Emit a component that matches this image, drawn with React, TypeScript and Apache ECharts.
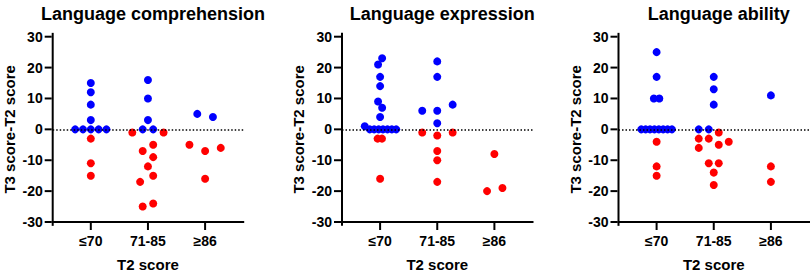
import React, { useEffect, useRef } from "react";
import * as echarts from "echarts";

// Categories (T2 score bands) and panel titles
const categories = ["≤70", "71-85", "≥86"];
const titles = ["Language comprehension", "Language expression", "Language ability"];
const yTicks = { min: -30, max: 30, step: 10 };

// Points: [group index, swarm slot (dot widths from the group centre), T3-T2 score change]
const comprehensionBlue: [number, number, number][] = [
  [0, 0, 15], [0, 0, 12], [0, 0, 8], [0, 0, 3],
  [0, -2, 0], [0, -1, 0], [0, 0, 0], [0, 1, 0], [0, 2, 0],
  [1, 0, 16], [1, 0, 10], [1, 0, 3], [1, -0.67, 0], [1, 0.67, 0],
  [2, -1, 5], [2, 1, 4],
];
const comprehensionRed: [number, number, number][] = [
  [0, 0, -3], [0, 0, -11], [0, 0, -15],
  [1, -2, -1], [1, 2, -1], [1, 0.67, -5], [1, -0.67, -7], [1, 0.67, -9],
  [1, 0, -12], [1, 0.67, -15], [1, -1.0, -17], [1, 0.67, -24], [1, -0.67, -25],
  [2, -2, -5], [2, 0, -7], [2, 2, -6], [2, 0, -16],
];

const expressionBlue: [number, number, number][] = [
  [0, 0.26, 23], [0, -0.26, 21], [0, 0, 17], [0, 0, 14], [0, -0.26, 9],
  [0, 0.26, 7], [0, 0, 4], [0, -1.96, 1],
  [0, -1.32, 0], [0, -0.76, 0], [0, -0.19, 0], [0, 0.37, 0], [0, 0.94, 0], [0, 1.5, 0], [0, 2.06, 0],
  [1, 0, 22], [1, 0, 17], [1, -1.92, 6], [1, 0, 6], [1, 0, 2], [1, 1.97, 8],
];
const expressionRed: [number, number, number][] = [
  [0, -0.32, -3], [0, 0.24, -3], [0, 0, -16],
  [1, -1.92, -1], [1, 0, -2], [1, 1.97, -1], [1, 0, -7], [1, 0, -10], [1, 0, -17],
  [2, 0, -8], [2, -0.94, -20], [2, 1.03, -19],
];

const abilityBlue: [number, number, number][] = [
  [0, 0, 25], [0, 0, 17], [0, -0.35, 10], [0, 0.35, 10],
  [0, -1.96, 0], [0, -1.4, 0], [0, -0.84, 0], [0, -0.28, 0],
  [0, 0.28, 0], [0, 0.84, 0], [0, 1.4, 0], [0, 1.96, 0],
  [1, 0, 17], [1, 0, 13], [1, 0, 8], [1, -1.92, 0], [1, -0.64, 0],
  [2, 0, 11],
];
const abilityRed: [number, number, number][] = [
  [0, 0, -4], [0, 0, -12], [0, 0, -15],
  [1, -1.92, -3], [1, -0.64, -3], [1, 0.64, -1], [1, -1.92, -6], [1, 0.64, -5],
  [1, 1.92, -4], [1, -0.64, -11], [1, 0.64, -11], [1, 0, -14], [1, 0, -18],
  [2, 0, -12], [2, 0, -17],
];

const panels = [
  { blue: comprehensionBlue, red: comprehensionRed },
  { blue: expressionBlue, red: expressionRed },
  { blue: abilityBlue, red: abilityRed },
];

const FONT = "'Liberation Sans', Arial, Helvetica, sans-serif";
const GRID_LEFTS = [52.7, 342, 618.5];
const GRID_TOP = 36.7;
const GRID_W = 190.5;
const GRID_H = 191;
const STEP = 7.8 / 57; // one dot width, in category units
const X_MIN = 1 / 3;
const X_MAX = 11 / 3;
const TICK_LEN = 7;
const AXIS_W = 2;

const toXY = (pts: [number, number, number][]) =>
  pts.map(([g, s, v]) => [g + 1 + s * STEP, v]);

const catValues = categories.map((_, i) => i + 1);
const yTickValues: number[] = [];
for (let v = yTicks.min; v <= yTicks.max; v += yTicks.step) yTickValues.push(v);

// Axis frame drawn as rect symbols anchored at axis values (line + ticks)
const axisFrameData = () => {
  const items: any[] = [];
  // vertical axis line, centred at the middle of the y range on the left edge
  items.push({
    value: [X_MIN, (yTicks.min + yTicks.max) / 2],
    symbolSize: [AXIS_W, GRID_H + AXIS_W],
  });
  // horizontal axis line along the bottom edge
  items.push({
    value: [(X_MIN + X_MAX) / 2, yTicks.min],
    symbolSize: [GRID_W + AXIS_W, AXIS_W],
  });
  yTickValues.forEach((v) =>
    items.push({
      value: [X_MIN, v],
      symbolSize: [TICK_LEN, AXIS_W],
      symbolOffset: [-(TICK_LEN / 2 + AXIS_W / 2), 0],
    })
  );
  catValues.forEach((c) =>
    items.push({
      value: [c, yTicks.min],
      symbolSize: [AXIS_W, TICK_LEN],
      symbolOffset: [0, TICK_LEN / 2 + AXIS_W / 2],
    })
  );
  return items;
};

export default function App() {
  const ref = useRef<HTMLDivElement>(null);

  useEffect(() => {
    if (!ref.current) return;
    const chart = echarts.init(ref.current, undefined, { renderer: "svg" });

    const grids = GRID_LEFTS.map((left) => ({
      left,
      top: GRID_TOP,
      width: GRID_W,
      height: GRID_H,
    }));

    const xAxes = panels.map((_, i) => ({
      type: "value",
      gridIndex: i,
      min: X_MIN,
      max: X_MAX,
      axisLine: { show: false },
      axisTick: { show: false },
      axisLabel: {
        customValues: catValues,
        formatter: (v: number) => categories[Math.round(v) - 1] ?? "",
        color: "#000",
        fontSize: 14,
        fontWeight: "bold",
        fontFamily: FONT,
        margin: 12,
      },
      splitLine: { show: false },
      name: "T2 score",
      nameLocation: "middle",
      nameGap: 35,
      nameTextStyle: { color: "#000", fontSize: 15, fontWeight: "bold", fontFamily: FONT },
    }));

    const yAxes = panels.map((_, i) => ({
      type: "value",
      gridIndex: i,
      min: yTicks.min,
      max: yTicks.max,
      interval: yTicks.step,
      axisLine: { show: false },
      axisTick: { show: false },
      axisLabel: {
        color: "#000",
        fontSize: 14,
        fontWeight: "bold",
        fontFamily: FONT,
        margin: 10,
      },
      splitLine: { show: false },
      name: "T3 score-T2 score",
      nameLocation: "middle",
      nameGap: 36,
      nameTextStyle: { color: "#000", fontSize: 15, fontWeight: "bold", fontFamily: FONT },
    }));

    const series: any[] = [];
    panels.forEach((p, i) => {
      series.push({
        type: "scatter",
        xAxisIndex: i,
        yAxisIndex: i,
        data: [],
        z: 1,
        markLine: {
          silent: true,
          symbol: "none",
          label: { show: false },
          lineStyle: { color: "#000", width: 1.5, type: [1.5, 2] },
          data: [{ yAxis: 0 }],
        },
      });
      series.push({
        type: "scatter",
        xAxisIndex: i,
        yAxisIndex: i,
        symbol: "circle",
        symbolSize: 8,
        itemStyle: { color: "#ff0000", opacity: 1 },
        data: toXY(p.red),
        z: 3,
      });
      series.push({
        type: "scatter",
        xAxisIndex: i,
        yAxisIndex: i,
        symbol: "circle",
        symbolSize: 8,
        itemStyle: { color: "#0000ff", opacity: 1 },
        data: toXY(p.blue),
        z: 4,
      });
      // axis frame (line + ticks)
      series.push({
        type: "scatter",
        xAxisIndex: i,
        yAxisIndex: i,
        symbol: "rect",
        clip: false,
        silent: true,
        itemStyle: { color: "#000", opacity: 1 },
        emphasis: { disabled: true },
        data: axisFrameData(),
        z: 5,
      });
    });

    chart.setOption({
      animation: false,
      backgroundColor: "#ffffff",
      title: titles.map((t, i) => ({
        text: t,
        left: GRID_LEFTS[i] + GRID_W / 2,
        top: 0,
        textAlign: "center",
        textStyle: { color: "#000", fontSize: 18, fontWeight: "bold", fontFamily: FONT },
      })),
      grid: grids,
      xAxis: xAxes,
      yAxis: yAxes,
      series,
    });

    return () => chart.dispose();
  }, []);

  return (
    <div
      ref={ref}
      style={{ position: "absolute", left: 0, top: 0, width: 810, height: 277 }}
    />
  );
}
